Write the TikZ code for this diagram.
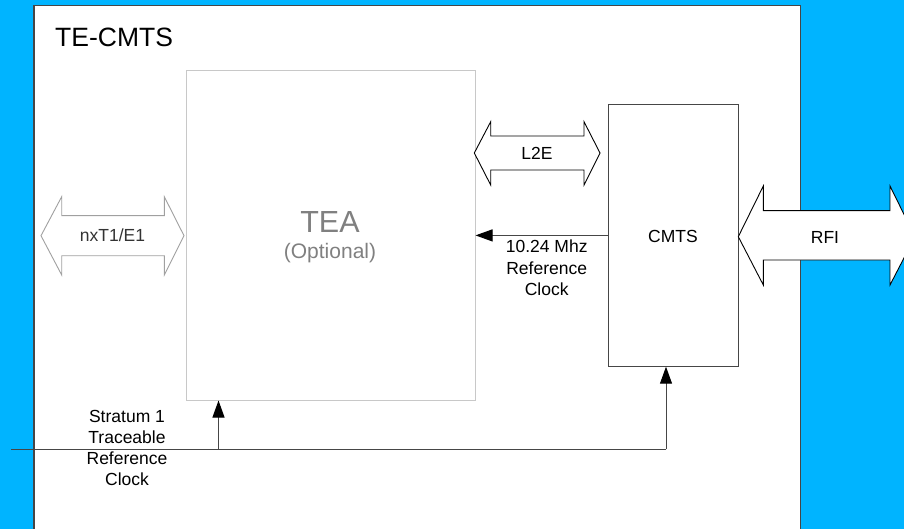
\documentclass[tikz,border=0pt]{standalone}
\usepackage{fontspec}
\setmainfont{Liberation Sans}
\usetikzlibrary{arrows.meta}
\definecolor{slideblue}{RGB}{0,180,255}
\definecolor{teagray}{RGB}{128,128,128}
\definecolor{lightedge}{RGB}{200,200,200}
\definecolor{pipegray}{RGB}{160,160,160}
\definecolor{darkedge}{RGB}{70,70,70}

\begin{document}
\begin{tikzpicture}[x=1pt,y=-1pt,
  lbl/.style={font=\fontsize{17.5}{21.3}\selectfont, align=center, inner sep=0pt},
  clk/.style={draw=darkedge, line width=1pt, -{Triangle[length=17pt,width=12pt,color=black]}},
  pipe/.style={fill=white, line width=0.9pt, line join=miter}]
% background and frame
\useasboundingbox (0,0) rectangle (904,529);
\fill[slideblue] (0,0) rectangle (904,529);
\draw[fill=white, draw=darkedge, line width=1.3pt] (34,5.3) rectangle (800.7,545);
\node[anchor=base west, font=\fontsize{26.5}{30}\selectfont, inner sep=0pt] (title) at (55,47) {TE-CMTS};

% TEA and CMTS boxes
\node[draw=lightedge, line width=1pt, minimum width=289pt, minimum height=329pt, inner sep=0pt] (tea) at (330.5,235.5) {};
\node[font=\fontsize{30.5}{36}\selectfont, text=teagray, inner sep=0pt] (teaname) at (330,222) {TEA};
\node[font=\fontsize{21}{25}\selectfont, text=teagray, inner sep=0pt] (teaopt) at (330,253) {(Optional)};
\node[draw=darkedge, line width=1pt, minimum width=129.5pt, minimum height=262.7pt, inner sep=0pt] (cmts) at (673.3,235.4) {};
\node[lbl] (cmtsname) at (673,236) {CMTS};

% interfaces
\draw[pipe, draw=pipegray] (41,235.7) -- (61.7,196.7) -- (61.7,215.7) -- (164.3,215.7) -- (164.3,196.7)
  -- (184,235.7) -- (164.3,275) -- (164.3,255.7) -- (61.7,255.7) -- (61.7,275) -- cycle;
\node[lbl, text=black!80] (t1e1) at (112.5,235.5) {nxT1/E1};
\draw[pipe, draw=black] (474.3,153) -- (490.7,121.7) -- (490.7,136) -- (584,136) -- (584,121.7)
  -- (600,153) -- (584,185) -- (584,170) -- (490.7,170) -- (490.7,185) -- cycle;
\node[lbl] (l2e) at (537,153) {L2E};
\draw[pipe, draw=black] (738.3,236.7) -- (763.3,186) -- (763.3,210.7) -- (890,210.7) -- (890,186)
  -- (915,236.7) -- (890,285) -- (890,260) -- (763.3,260) -- (763.3,285) -- cycle;
\node[lbl] (rfi) at (825,237) {RFI};

% reference clocks
\draw[clk] (cmts.west) -- (cmts.west -| tea.east);
\node[lbl] (refclk) at (546.7,268) {10.24 Mhz\\Reference\\Clock};
\coordinate (clkin) at (11,449.3);
\coordinate (tap) at (218.5,449.3);
\coordinate (cmtsin) at (666,366.7);
\draw[darkedge, line width=1pt] (clkin) -- (clkin -| cmtsin);
\draw[clk] (clkin -| cmtsin) -- (cmtsin);
\draw[clk] (tap) -- (tap |- tea.south);
\node[lbl] (stratum) at (127,448) {Stratum 1\\Traceable\\Reference\\Clock};
\end{tikzpicture}
\end{document}
